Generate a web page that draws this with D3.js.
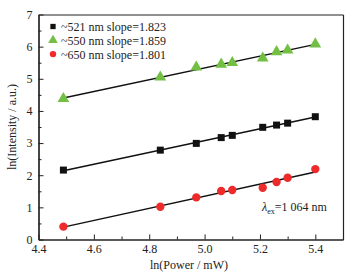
<!DOCTYPE html>
<html><head><meta charset="utf-8">
<script src="https://cdn.jsdelivr.net/npm/d3@7"></script>
<style>
html,body{margin:0;padding:0;background:#fff;}
svg text{font-family:"Liberation Serif","Times New Roman",serif;fill:#222;}
</style></head>
<body>
<script>
const lnPower = [4.49, 4.84, 4.97, 5.06, 5.10, 5.21, 5.26, 5.30, 5.40];
const s521 = [2.16, 2.78, 2.99, 3.17, 3.24, 3.49, 3.56, 3.62, 3.82];
const s550 = [4.38, 5.05, 5.36, 5.45, 5.50, 5.64, 5.84, 5.89, 6.08];
const s650 = [0.40, 1.02, 1.31, 1.51, 1.54, 1.61, 1.79, 1.92, 2.19];
const legendLabels = ["~521 nm slope=1.823", "~550 nm slope=1.859", "~650 nm slope=1.801"];
const xTicks = [4.4, 4.6, 4.8, 5.0, 5.2, 5.4];
const yTicks = [0, 1, 2, 3, 4, 5, 6, 7];

const W = 360, H = 275;
const FF = "Liberation Serif, Times New Roman, serif";
const m = {l: 38.5, r: 17, t: 14.5, b: 35.5};
const svg = d3.select("body").append("svg").attr("width", W).attr("height", H);
const x = d3.scaleLinear().domain([4.4, 5.5]).range([m.l, W - m.r]);
const y = d3.scaleLinear().domain([0, 7]).range([H - m.b, m.t]);

const series = [
  {name: legendLabels[0], vals: s521, color: "#111", shape: "square"},
  {name: legendLabels[1], vals: s550, color: "#72bf44", shape: "triangle"},
  {name: legendLabels[2], vals: s650, color: "#ee2a2a", shape: "circle"}
];

// axes
svg.append("g").attr("transform", `translate(0,${y(0)})`)
  .call(d3.axisBottom(x).tickValues(xTicks).tickFormat(d3.format(".1f")).tickSizeInner(-5).tickSizeOuter(0).tickPadding(5));
svg.append("g").attr("transform", `translate(0,${y(0)})`)
  .call(d3.axisBottom(x).tickValues(d3.range(4.5, 5.5, 0.2)).tickFormat("").tickSizeInner(-3).tickSizeOuter(0));
svg.append("g").attr("transform", `translate(${x(4.4)},0)`)
  .call(d3.axisLeft(y).tickValues(yTicks).tickFormat(d3.format("d")).tickSizeInner(-5).tickSizeOuter(0).tickPadding(6));
svg.append("g").attr("transform", `translate(${x(4.4)},0)`)
  .call(d3.axisLeft(y).tickValues(d3.range(0.5, 7, 1)).tickFormat("").tickSizeInner(-3).tickSizeOuter(0));
svg.append("g").attr("transform", `translate(0,${y(7)})`)
  .call(d3.axisTop(x).tickValues([]).tickSizeOuter(0));
svg.append("g").attr("transform", `translate(${x(5.5)},0)`)
  .call(d3.axisRight(y).tickValues([]).tickSizeOuter(0));
svg.selectAll(".domain").attr("stroke", "#222").attr("stroke-width", 1.2);
svg.selectAll(".tick line").attr("stroke", "#222").attr("stroke-width", 1);
svg.selectAll(".tick text").attr("font-size", 12).attr("font-family", FF).attr("fill", "#222");

// fit lines
series.forEach(s => {
  const n = lnPower.length;
  const mx = d3.mean(lnPower), my = d3.mean(s.vals);
  let sxy = 0, sxx = 0;
  for (let i = 0; i < n; i++) { sxy += (lnPower[i] - mx) * (s.vals[i] - my); sxx += (lnPower[i] - mx) ** 2; }
  const k = sxy / sxx, b = my - k * mx;
  const x0 = d3.min(lnPower), x1 = d3.max(lnPower);
  svg.append("line").attr("x1", x(x0)).attr("y1", y(k * x0 + b)).attr("x2", x(x1)).attr("y2", y(k * x1 + b))
    .attr("stroke", "#111").attr("stroke-width", 1.5);
});

function sym(shape, size) {
  const t = shape === "square" ? d3.symbolSquare : shape === "triangle" ? d3.symbolTriangle : d3.symbolCircle;
  return d3.symbol().type(t).size(size)();
}
const sizes = {square: 49, triangle: 60, circle: 55};
series.forEach(s => {
  svg.append("g").selectAll("path").data(s.vals).join("path")
    .attr("d", sym(s.shape, sizes[s.shape]))
    .attr("transform", (d, i) => `translate(${x(lnPower[i])},${y(d)})`)
    .attr("fill", s.color);
});

// legend
const lg = svg.append("g");
series.forEach((s, i) => {
  const yy = 26.5 + i * 13.8;
  lg.append("path").attr("d", sym(s.shape, {square: 28, triangle: 40, circle: 32}[s.shape]))
    .attr("transform", `translate(53,${yy})`).attr("fill", s.color);
  lg.append("text").attr("x", 61).attr("y", yy + 4.5).attr("font-size", 12).attr("font-family", FF).text(s.name);
});

// annotation
const ann = svg.append("text").attr("x", 262).attr("y", 211).attr("font-size", 12).attr("font-family", FF);
ann.append("tspan").attr("font-style", "italic").text("λ");
ann.append("tspan").attr("font-size", 8).attr("dy", 3).text("ex");
ann.append("tspan").attr("dy", -3).text("=1 064 nm");

// axis titles
svg.append("text").attr("x", 189).attr("y", 269).attr("text-anchor", "middle").attr("font-size", 12).attr("font-family", FF).text("ln(Power / mW)");
svg.append("text").attr("transform", `translate(16,${(y(0) + y(7)) / 2}) rotate(-90)`).attr("text-anchor", "middle")
  .attr("font-size", 12).attr("font-family", FF).text("ln(Intensity / a.u.)");
</script>
</body></html>
